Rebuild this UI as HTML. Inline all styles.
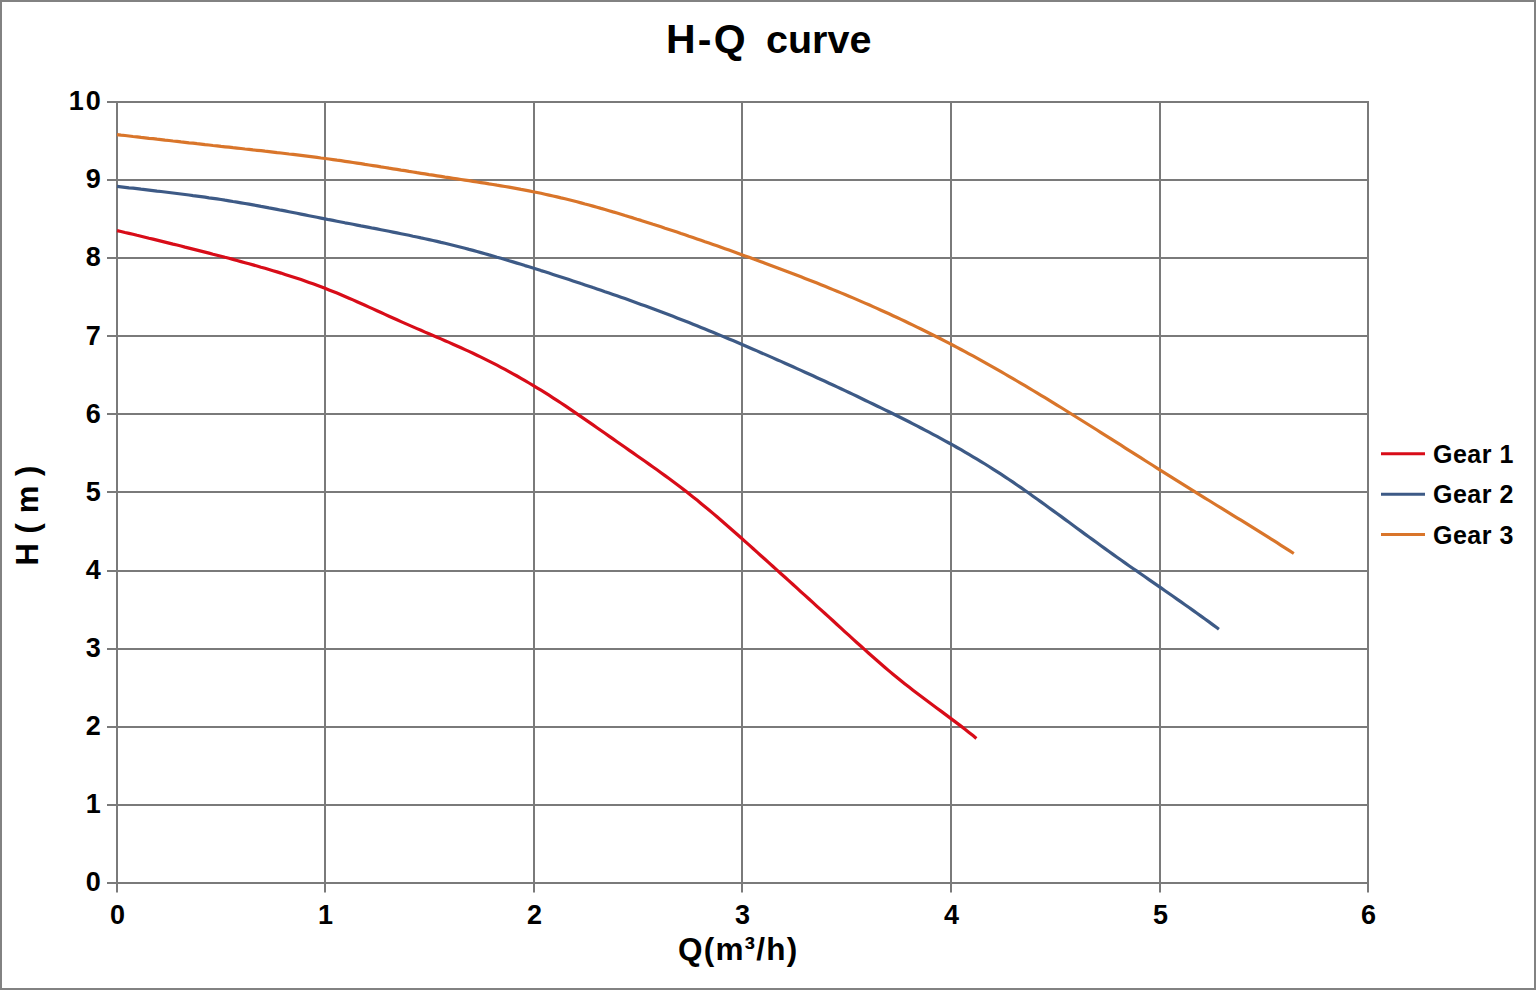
<!DOCTYPE html>
<html><head><meta charset="utf-8"><style>
html,body{margin:0;padding:0;background:#fff;}
body{width:1536px;height:991px;position:relative;overflow:hidden;}
.frame{position:absolute;left:0;top:0;width:1532px;height:986px;border:2px solid #828282;}
svg{position:absolute;left:0;top:0;}
text{font-family:"Liberation Sans",sans-serif;font-weight:bold;fill:#000;}
.lab{font-size:27px;}
.leg{font-size:25px;letter-spacing:0.5px;}
.title{font-size:41px;letter-spacing:2.2px;}
.title2{font-size:39.5px;}
.xt{font-size:31.5px;letter-spacing:1.2px;}
.yt{font-size:31px;letter-spacing:0.55px;}
</style></head><body>
<div class="frame"></div>
<svg width="1536" height="991" viewBox="0 0 1536 991">
<line x1="107" y1="883.0" x2="1369.0" y2="883.0" stroke="#7a7a7a" stroke-width="2"/>
<line x1="107" y1="805.0" x2="1369.0" y2="805.0" stroke="#7a7a7a" stroke-width="2"/>
<line x1="107" y1="727.0" x2="1369.0" y2="727.0" stroke="#7a7a7a" stroke-width="2"/>
<line x1="107" y1="649.0" x2="1369.0" y2="649.0" stroke="#7a7a7a" stroke-width="2"/>
<line x1="107" y1="571.0" x2="1369.0" y2="571.0" stroke="#7a7a7a" stroke-width="2"/>
<line x1="107" y1="492.0" x2="1369.0" y2="492.0" stroke="#7a7a7a" stroke-width="2"/>
<line x1="107" y1="414.0" x2="1369.0" y2="414.0" stroke="#7a7a7a" stroke-width="2"/>
<line x1="107" y1="336.0" x2="1369.0" y2="336.0" stroke="#7a7a7a" stroke-width="2"/>
<line x1="107" y1="258.0" x2="1369.0" y2="258.0" stroke="#7a7a7a" stroke-width="2"/>
<line x1="107" y1="180.0" x2="1369.0" y2="180.0" stroke="#7a7a7a" stroke-width="2"/>
<line x1="107" y1="102.0" x2="1369.0" y2="102.0" stroke="#7a7a7a" stroke-width="2"/>
<line x1="117.0" y1="101.0" x2="117.0" y2="892.5" stroke="#7a7a7a" stroke-width="2"/>
<line x1="325.0" y1="101.0" x2="325.0" y2="892.5" stroke="#7a7a7a" stroke-width="2"/>
<line x1="534.0" y1="101.0" x2="534.0" y2="892.5" stroke="#7a7a7a" stroke-width="2"/>
<line x1="742.0" y1="101.0" x2="742.0" y2="892.5" stroke="#7a7a7a" stroke-width="2"/>
<line x1="951.0" y1="101.0" x2="951.0" y2="892.5" stroke="#7a7a7a" stroke-width="2"/>
<line x1="1160.0" y1="101.0" x2="1160.0" y2="892.5" stroke="#7a7a7a" stroke-width="2"/>
<line x1="1368.0" y1="101.0" x2="1368.0" y2="892.5" stroke="#7a7a7a" stroke-width="2"/>
<text x="100.8" y="891.2" text-anchor="end" class="lab">0</text>
<text x="100.8" y="813.1" text-anchor="end" class="lab">1</text>
<text x="100.8" y="735.0" text-anchor="end" class="lab">2</text>
<text x="100.8" y="656.9" text-anchor="end" class="lab">3</text>
<text x="100.8" y="578.8" text-anchor="end" class="lab">4</text>
<text x="100.8" y="500.7" text-anchor="end" class="lab">5</text>
<text x="100.8" y="422.6" text-anchor="end" class="lab">6</text>
<text x="100.8" y="344.5" text-anchor="end" class="lab">7</text>
<text x="100.8" y="266.4" text-anchor="end" class="lab">8</text>
<text x="100.8" y="188.3" text-anchor="end" class="lab">9</text>
<text x="100.8" y="110.2" text-anchor="end" class="lab">1<tspan dx="2">0</tspan></text>
<text x="117.5" y="924" text-anchor="middle" class="lab">0</text>
<text x="325.5" y="924" text-anchor="middle" class="lab">1</text>
<text x="534.5" y="924" text-anchor="middle" class="lab">2</text>
<text x="742.5" y="924" text-anchor="middle" class="lab">3</text>
<text x="951.5" y="924" text-anchor="middle" class="lab">4</text>
<text x="1160.5" y="924" text-anchor="middle" class="lab">5</text>
<text x="1368.5" y="924" text-anchor="middle" class="lab">6</text>
<path d="M117.0,230.6 L121.0,231.5 L125.0,232.5 L129.0,233.4 L133.0,234.3 L137.0,235.3 L141.0,236.2 L145.0,237.2 L149.0,238.2 L153.0,239.1 L157.0,240.1 L161.0,241.1 L165.0,242.1 L169.0,243.1 L173.0,244.1 L177.0,245.0 L181.0,246.0 L185.0,247.1 L189.0,248.1 L193.0,249.1 L197.0,250.1 L201.0,251.1 L205.0,252.1 L209.0,253.1 L213.0,254.2 L217.0,255.2 L221.0,256.2 L225.0,257.3 L229.0,258.3 L233.0,259.4 L237.0,260.5 L241.0,261.6 L245.0,262.7 L249.0,263.8 L253.0,264.9 L257.0,266.0 L261.0,267.2 L265.0,268.3 L269.0,269.5 L273.0,270.7 L277.0,271.9 L281.0,273.1 L285.0,274.4 L289.0,275.7 L293.0,277.0 L297.0,278.3 L301.0,279.6 L305.0,281.0 L309.0,282.4 L313.0,283.8 L317.0,285.3 L321.0,286.8 L325.0,288.3 L329.0,289.9 L333.0,291.5 L337.0,293.1 L341.0,294.8 L345.0,296.5 L349.0,298.2 L353.0,299.9 L357.0,301.7 L361.0,303.5 L365.0,305.3 L369.0,307.1 L373.0,308.9 L377.0,310.7 L381.0,312.5 L385.0,314.4 L389.0,316.2 L393.0,318.0 L397.0,319.8 L401.0,321.6 L405.0,323.4 L409.0,325.1 L413.0,326.9 L417.0,328.6 L421.0,330.3 L425.0,332.1 L429.0,333.8 L433.0,335.5 L437.0,337.2 L441.0,338.9 L445.0,340.7 L449.0,342.4 L453.0,344.2 L457.0,346.0 L461.0,347.8 L465.0,349.6 L469.0,351.4 L473.0,353.3 L477.0,355.2 L481.0,357.1 L485.0,359.1 L489.0,361.1 L493.0,363.1 L497.0,365.2 L501.0,367.3 L505.0,369.4 L509.0,371.6 L513.0,373.8 L517.0,376.0 L521.0,378.3 L525.0,380.6 L529.0,383.0 L533.0,385.3 L537.0,387.8 L541.0,390.2 L545.0,392.7 L549.0,395.2 L553.0,397.8 L557.0,400.4 L561.0,403.0 L565.0,405.7 L569.0,408.4 L573.0,411.1 L577.0,413.8 L581.0,416.6 L585.0,419.3 L589.0,422.1 L593.0,424.9 L597.0,427.7 L601.0,430.5 L605.0,433.3 L609.0,436.1 L613.0,438.9 L617.0,441.7 L621.0,444.5 L625.0,447.3 L629.0,450.1 L633.0,452.9 L637.0,455.7 L641.0,458.5 L645.0,461.3 L649.0,464.1 L653.0,467.0 L657.0,469.8 L661.0,472.7 L665.0,475.6 L669.0,478.5 L673.0,481.5 L677.0,484.5 L681.0,487.6 L685.0,490.6 L689.0,493.8 L693.0,496.9 L697.0,500.1 L701.0,503.4 L705.0,506.7 L709.0,510.0 L713.0,513.4 L717.0,516.8 L721.0,520.3 L725.0,523.7 L729.0,527.2 L733.0,530.7 L737.0,534.3 L741.0,537.8 L745.0,541.4 L749.0,544.9 L753.0,548.5 L757.0,552.1 L761.0,555.7 L765.0,559.3 L769.0,562.9 L773.0,566.5 L777.0,570.1 L781.0,573.7 L785.0,577.3 L789.0,580.9 L793.0,584.5 L797.0,588.1 L801.0,591.8 L805.0,595.4 L809.0,599.0 L813.0,602.6 L817.0,606.3 L821.0,609.9 L825.0,613.5 L829.0,617.2 L833.0,620.8 L837.0,624.5 L841.0,628.1 L845.0,631.8 L849.0,635.4 L853.0,639.1 L857.0,642.7 L861.0,646.3 L865.0,649.9 L869.0,653.5 L873.0,657.0 L877.0,660.5 L881.0,664.0 L885.0,667.5 L889.0,670.9 L893.0,674.2 L897.0,677.5 L901.0,680.8 L905.0,684.0 L909.0,687.1 L913.0,690.2 L917.0,693.3 L921.0,696.3 L925.0,699.3 L929.0,702.3 L933.0,705.2 L937.0,708.2 L941.0,711.1 L945.0,714.1 L949.0,717.1 L953.0,720.1 L957.0,723.1 L961.0,726.1 L965.0,729.2 L969.0,732.4 L973.0,735.6 L976.4,738.4" fill="none" stroke="#d80c18" stroke-width="3.2" stroke-linejoin="round" stroke-linecap="butt"/>
<path d="M117.0,186.3 L121.0,186.8 L125.0,187.3 L129.0,187.8 L133.0,188.2 L137.0,188.7 L141.0,189.2 L145.0,189.6 L149.0,190.1 L153.0,190.6 L157.0,191.1 L161.0,191.5 L165.0,192.0 L169.0,192.5 L173.0,193.0 L177.0,193.5 L181.0,194.0 L185.0,194.5 L189.0,195.0 L193.0,195.6 L197.0,196.1 L201.0,196.6 L205.0,197.2 L209.0,197.8 L213.0,198.3 L217.0,198.9 L221.0,199.5 L225.0,200.2 L229.0,200.8 L233.0,201.5 L237.0,202.1 L241.0,202.8 L245.0,203.5 L249.0,204.2 L253.0,204.9 L257.0,205.6 L261.0,206.4 L265.0,207.1 L269.0,207.9 L273.0,208.6 L277.0,209.4 L281.0,210.2 L285.0,210.9 L289.0,211.7 L293.0,212.5 L297.0,213.3 L301.0,214.1 L305.0,214.9 L309.0,215.7 L313.0,216.5 L317.0,217.3 L321.0,218.1 L325.0,218.9 L329.0,219.7 L333.0,220.4 L337.0,221.2 L341.0,222.0 L345.0,222.8 L349.0,223.5 L353.0,224.3 L357.0,225.1 L361.0,225.9 L365.0,226.6 L369.0,227.4 L373.0,228.2 L377.0,228.9 L381.0,229.7 L385.0,230.5 L389.0,231.3 L393.0,232.1 L397.0,232.9 L401.0,233.7 L405.0,234.5 L409.0,235.3 L413.0,236.2 L417.0,237.0 L421.0,237.9 L425.0,238.7 L429.0,239.6 L433.0,240.5 L437.0,241.4 L441.0,242.4 L445.0,243.3 L449.0,244.3 L453.0,245.3 L457.0,246.3 L461.0,247.3 L465.0,248.3 L469.0,249.4 L473.0,250.4 L477.0,251.5 L481.0,252.6 L485.0,253.7 L489.0,254.9 L493.0,256.0 L497.0,257.2 L501.0,258.3 L505.0,259.5 L509.0,260.7 L513.0,261.9 L517.0,263.1 L521.0,264.3 L525.0,265.6 L529.0,266.8 L533.0,268.0 L537.0,269.3 L541.0,270.6 L545.0,271.8 L549.0,273.1 L553.0,274.4 L557.0,275.7 L561.0,277.0 L565.0,278.3 L569.0,279.6 L573.0,280.9 L577.0,282.2 L581.0,283.6 L585.0,284.9 L589.0,286.2 L593.0,287.6 L597.0,288.9 L601.0,290.3 L605.0,291.7 L609.0,293.0 L613.0,294.4 L617.0,295.8 L621.0,297.2 L625.0,298.6 L629.0,300.1 L633.0,301.5 L637.0,302.9 L641.0,304.4 L645.0,305.8 L649.0,307.3 L653.0,308.8 L657.0,310.3 L661.0,311.8 L665.0,313.3 L669.0,314.8 L673.0,316.3 L677.0,317.9 L681.0,319.5 L685.0,321.0 L689.0,322.6 L693.0,324.2 L697.0,325.8 L701.0,327.4 L705.0,329.0 L709.0,330.7 L713.0,332.3 L717.0,333.9 L721.0,335.6 L725.0,337.3 L729.0,339.0 L733.0,340.6 L737.0,342.3 L741.0,344.0 L745.0,345.7 L749.0,347.5 L753.0,349.2 L757.0,350.9 L761.0,352.7 L765.0,354.4 L769.0,356.1 L773.0,357.9 L777.0,359.7 L781.0,361.4 L785.0,363.2 L789.0,365.0 L793.0,366.8 L797.0,368.6 L801.0,370.4 L805.0,372.2 L809.0,374.0 L813.0,375.8 L817.0,377.7 L821.0,379.5 L825.0,381.3 L829.0,383.2 L833.0,385.0 L837.0,386.9 L841.0,388.8 L845.0,390.6 L849.0,392.5 L853.0,394.4 L857.0,396.3 L861.0,398.2 L865.0,400.2 L869.0,402.1 L873.0,404.0 L877.0,406.0 L881.0,407.9 L885.0,409.9 L889.0,411.8 L893.0,413.8 L897.0,415.8 L901.0,417.8 L905.0,419.8 L909.0,421.8 L913.0,423.9 L917.0,425.9 L921.0,428.0 L925.0,430.1 L929.0,432.2 L933.0,434.3 L937.0,436.4 L941.0,438.6 L945.0,440.8 L949.0,443.0 L953.0,445.2 L957.0,447.5 L961.0,449.7 L965.0,452.1 L969.0,454.4 L973.0,456.8 L977.0,459.2 L981.0,461.6 L985.0,464.0 L989.0,466.5 L993.0,469.1 L997.0,471.6 L1001.0,474.2 L1005.0,476.9 L1009.0,479.5 L1013.0,482.2 L1017.0,485.0 L1021.0,487.7 L1025.0,490.5 L1029.0,493.3 L1033.0,496.2 L1037.0,499.0 L1041.0,501.9 L1045.0,504.8 L1049.0,507.7 L1053.0,510.6 L1057.0,513.5 L1061.0,516.4 L1065.0,519.4 L1069.0,522.3 L1073.0,525.2 L1077.0,528.2 L1081.0,531.1 L1085.0,534.1 L1089.0,537.0 L1093.0,539.9 L1097.0,542.8 L1101.0,545.7 L1105.0,548.6 L1109.0,551.5 L1113.0,554.4 L1117.0,557.2 L1121.0,560.0 L1125.0,562.9 L1129.0,565.7 L1133.0,568.5 L1137.0,571.2 L1141.0,574.0 L1145.0,576.8 L1149.0,579.6 L1153.0,582.4 L1157.0,585.1 L1161.0,587.9 L1165.0,590.7 L1169.0,593.5 L1173.0,596.3 L1177.0,599.1 L1181.0,601.9 L1185.0,604.7 L1189.0,607.5 L1193.0,610.4 L1197.0,613.2 L1201.0,616.1 L1205.0,619.0 L1209.0,621.9 L1213.0,624.9 L1217.0,627.8 L1218.9,629.2" fill="none" stroke="#3d5a86" stroke-width="3.2" stroke-linejoin="round" stroke-linecap="butt"/>
<path d="M117.0,134.6 L121.0,135.1 L125.0,135.5 L129.0,136.0 L133.0,136.5 L137.0,136.9 L141.0,137.4 L145.0,137.8 L149.0,138.3 L153.0,138.7 L157.0,139.2 L161.0,139.6 L165.0,140.1 L169.0,140.5 L173.0,141.0 L177.0,141.4 L181.0,141.9 L185.0,142.3 L189.0,142.8 L193.0,143.2 L197.0,143.7 L201.0,144.1 L205.0,144.6 L209.0,145.0 L213.0,145.5 L217.0,145.9 L221.0,146.4 L225.0,146.8 L229.0,147.2 L233.0,147.7 L237.0,148.1 L241.0,148.5 L245.0,149.0 L249.0,149.4 L253.0,149.9 L257.0,150.3 L261.0,150.7 L265.0,151.2 L269.0,151.6 L273.0,152.1 L277.0,152.6 L281.0,153.0 L285.0,153.5 L289.0,154.0 L293.0,154.4 L297.0,154.9 L301.0,155.4 L305.0,155.9 L309.0,156.4 L313.0,156.9 L317.0,157.4 L321.0,158.0 L325.0,158.5 L329.0,159.0 L333.0,159.6 L337.0,160.2 L341.0,160.7 L345.0,161.3 L349.0,161.9 L353.0,162.5 L357.0,163.1 L361.0,163.7 L365.0,164.4 L369.0,165.0 L373.0,165.6 L377.0,166.2 L381.0,166.9 L385.0,167.5 L389.0,168.2 L393.0,168.8 L397.0,169.4 L401.0,170.1 L405.0,170.7 L409.0,171.4 L413.0,172.0 L417.0,172.7 L421.0,173.3 L425.0,173.9 L429.0,174.6 L433.0,175.2 L437.0,175.8 L441.0,176.4 L445.0,177.1 L449.0,177.7 L453.0,178.3 L457.0,178.9 L461.0,179.5 L465.0,180.1 L469.0,180.7 L473.0,181.3 L477.0,182.0 L481.0,182.6 L485.0,183.2 L489.0,183.9 L493.0,184.5 L497.0,185.2 L501.0,185.8 L505.0,186.5 L509.0,187.2 L513.0,187.9 L517.0,188.6 L521.0,189.4 L525.0,190.1 L529.0,190.9 L533.0,191.7 L537.0,192.5 L541.0,193.3 L545.0,194.2 L549.0,195.1 L553.0,196.0 L557.0,196.9 L561.0,197.9 L565.0,198.8 L569.0,199.8 L573.0,200.8 L577.0,201.8 L581.0,202.9 L585.0,204.0 L589.0,205.0 L593.0,206.1 L597.0,207.2 L601.0,208.4 L605.0,209.5 L609.0,210.7 L613.0,211.9 L617.0,213.0 L621.0,214.2 L625.0,215.5 L629.0,216.7 L633.0,217.9 L637.0,219.2 L641.0,220.4 L645.0,221.7 L649.0,223.0 L653.0,224.3 L657.0,225.5 L661.0,226.8 L665.0,228.2 L669.0,229.5 L673.0,230.8 L677.0,232.1 L681.0,233.5 L685.0,234.8 L689.0,236.2 L693.0,237.5 L697.0,238.9 L701.0,240.3 L705.0,241.7 L709.0,243.0 L713.0,244.4 L717.0,245.8 L721.0,247.3 L725.0,248.7 L729.0,250.1 L733.0,251.5 L737.0,253.0 L741.0,254.4 L745.0,255.9 L749.0,257.3 L753.0,258.8 L757.0,260.2 L761.0,261.7 L765.0,263.2 L769.0,264.7 L773.0,266.2 L777.0,267.7 L781.0,269.2 L785.0,270.7 L789.0,272.2 L793.0,273.7 L797.0,275.3 L801.0,276.8 L805.0,278.4 L809.0,279.9 L813.0,281.5 L817.0,283.1 L821.0,284.7 L825.0,286.3 L829.0,287.9 L833.0,289.6 L837.0,291.2 L841.0,292.9 L845.0,294.5 L849.0,296.2 L853.0,297.9 L857.0,299.6 L861.0,301.4 L865.0,303.1 L869.0,304.8 L873.0,306.6 L877.0,308.4 L881.0,310.2 L885.0,312.0 L889.0,313.8 L893.0,315.7 L897.0,317.5 L901.0,319.4 L905.0,321.3 L909.0,323.2 L913.0,325.1 L917.0,327.1 L921.0,329.0 L925.0,331.0 L929.0,333.0 L933.0,335.0 L937.0,337.0 L941.0,339.0 L945.0,341.1 L949.0,343.2 L953.0,345.2 L957.0,347.3 L961.0,349.5 L965.0,351.6 L969.0,353.8 L973.0,355.9 L977.0,358.1 L981.0,360.3 L985.0,362.6 L989.0,364.8 L993.0,367.1 L997.0,369.4 L1001.0,371.6 L1005.0,374.0 L1009.0,376.3 L1013.0,378.6 L1017.0,381.0 L1021.0,383.3 L1025.0,385.7 L1029.0,388.1 L1033.0,390.5 L1037.0,392.9 L1041.0,395.3 L1045.0,397.7 L1049.0,400.2 L1053.0,402.6 L1057.0,405.1 L1061.0,407.5 L1065.0,410.0 L1069.0,412.5 L1073.0,415.0 L1077.0,417.5 L1081.0,420.0 L1085.0,422.5 L1089.0,425.0 L1093.0,427.5 L1097.0,430.0 L1101.0,432.6 L1105.0,435.1 L1109.0,437.6 L1113.0,440.2 L1117.0,442.7 L1121.0,445.2 L1125.0,447.8 L1129.0,450.3 L1133.0,452.9 L1137.0,455.4 L1141.0,457.9 L1145.0,460.5 L1149.0,463.0 L1153.0,465.5 L1157.0,468.1 L1161.0,470.6 L1165.0,473.1 L1169.0,475.6 L1173.0,478.2 L1177.0,480.7 L1181.0,483.2 L1185.0,485.7 L1189.0,488.2 L1193.0,490.6 L1197.0,493.1 L1201.0,495.6 L1205.0,498.1 L1209.0,500.5 L1213.0,503.0 L1217.0,505.5 L1221.0,507.9 L1225.0,510.4 L1229.0,512.8 L1233.0,515.3 L1237.0,517.8 L1241.0,520.2 L1245.0,522.7 L1249.0,525.2 L1253.0,527.7 L1257.0,530.2 L1261.0,532.7 L1265.0,535.2 L1269.0,537.7 L1273.0,540.2 L1277.0,542.7 L1281.0,545.3 L1285.0,547.8 L1289.0,550.4 L1293.0,553.0 L1293.8,553.5" fill="none" stroke="#d9752a" stroke-width="3.2" stroke-linejoin="round" stroke-linecap="butt"/>
<line x1="1381" y1="453.8" x2="1425" y2="453.8" stroke="#d80c18" stroke-width="3"/>
<text x="1433" y="462.8" class="leg">Gear 1</text>
<line x1="1381" y1="494.2" x2="1425" y2="494.2" stroke="#3d5a86" stroke-width="3"/>
<text x="1433" y="503.2" class="leg">Gear 2</text>
<line x1="1381" y1="534.6" x2="1425" y2="534.6" stroke="#d9752a" stroke-width="3"/>
<text x="1433" y="543.6" class="leg">Gear 3</text>
<text x="666" y="53" class="title">H-Q</text>
<text x="766" y="53" class="title2">curve</text>
<text x="678" y="959.8" class="xt">Q(m³/h)</text>
<text transform="translate(38,565.5) rotate(-90)" class="yt">H ( m )</text>
</svg>
</body></html>
